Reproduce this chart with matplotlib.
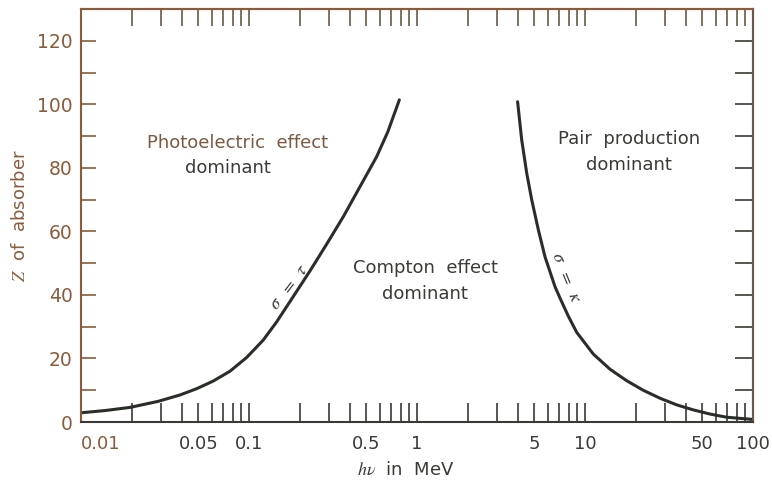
import numpy as np
import matplotlib
matplotlib.use('Agg')
import matplotlib.pyplot as plt

plt.rcParams['font.family'] = ['DejaVu Sans']
plt.rcParams['mathtext.fontset'] = 'stix'

# sigma = tau boundary (photoelectric / Compton)
photo_e = [0.01, 0.0139, 0.0196, 0.0288, 0.0388, 0.0489, 0.0613, 0.0771, 0.0968,
           0.1216, 0.146, 0.184, 0.231, 0.290, 0.364, 0.458, 0.575, 0.671, 0.785]
photo_z = [2.9, 3.6, 4.6, 6.5, 8.5, 10.5, 12.9, 16.0, 20.3,
           25.8, 31.5, 39.6, 47.6, 56.0, 64.6, 74.1, 83.5, 91.4, 101.4]

# sigma = kappa boundary (Compton / pair production)
pair_e = [3.97, 4.20, 4.50, 4.82, 5.28, 5.78, 6.63, 7.10, 7.96, 8.93, 11.2,
          14.1, 17.7, 22.2, 27.9, 35.1, 44.2, 55.5, 69.7, 100]
pair_z = [100.8, 88.8, 78.3, 69.9, 60.4, 52.0, 42.6, 39.0, 33.3, 28.2, 21.4,
          16.6, 13.0, 10.0, 7.5, 5.4, 3.8, 2.5, 1.5, 0.8]

x_labels = {0.01: '0.01', 0.05: '0.05', 0.1: '0.1', 0.5: '0.5', 1: '1',
            5: '5', 10: '10', 50: '50', 100: '100'}

brown = '#8a5c3c'
dark = '#3a3a36'
line_col = '#2a2e29'

fig = plt.figure(figsize=(7.72, 4.9), dpi=100)
ax = fig.add_axes([81 / 772, 1 - 422 / 490, (753 - 81) / 772, (422 - 9) / 490])

ax.plot(photo_e, photo_z, color=line_col, lw=2.2, solid_capstyle='round',
        solid_joinstyle='round')
ax.plot(pair_e, pair_z, color=line_col, lw=2.2, solid_capstyle='round',
        solid_joinstyle='round')

ax.set_xscale('log')
ax.set_xlim(0.01, 100)
ax.set_ylim(0, 130)

# x ticks at every 1..9 x decade
xt = []
for dec in [0.01, 0.1, 1, 10]:
    for m in range(1, 10):
        xt.append(round(dec * m, 6))
xt.append(100)
ax.set_xticks(xt)
ax.set_xticklabels([x_labels.get(v, '') for v in xt])
ax.xaxis.set_minor_locator(matplotlib.ticker.NullLocator())
ax.tick_params(axis='x', direction='in', length=14, width=1.2, color=dark,
               labelsize=13, labelcolor=dark, pad=9)
for lab in ax.get_xticklabels():
    if lab.get_text() == '0.01':
        lab.set_horizontalalignment('left')
        lab.set_color(brown)

ax.set_yticks(np.arange(0, 131, 10))
ax.set_yticklabels([str(v) if v % 20 == 0 else '' for v in range(0, 131, 10)])
ax.tick_params(axis='y', direction='in', length=11, width=1.2, color=brown,
               labelsize=13.5, labelcolor=brown, pad=6)

top = ax.secondary_xaxis('top')
top.set_xticks(xt)
top.set_xticklabels([])
top.xaxis.set_minor_locator(matplotlib.ticker.NullLocator())
top.tick_params(direction='in', length=12, width=1.2, color='#6b5a48')
top.spines['top'].set_color(brown)
top.spines['top'].set_linewidth(1.5)

right = ax.secondary_yaxis('right')
right.set_yticks(np.arange(0, 131, 10))
right.set_yticklabels([])
right.tick_params(direction='in', length=13, width=1.2, color=dark)
right.spines['right'].set_color('#6b5a48')
right.spines['right'].set_linewidth(1.5)

for s in ['left', 'top']:
    ax.spines[s].set_color(brown)
ax.spines['bottom'].set_color(dark)
ax.spines['right'].set_color('#6b5a48')
for s in ax.spines.values():
    s.set_linewidth(1.5)

ax.set_xlabel(r'$h\nu$  in  MeV', fontsize=13, color=dark)
ax.xaxis.set_label_coords(0.483, -0.095)
ax.set_ylabel(r'$Z$  of  absorber', fontsize=13, color=brown)
ax.yaxis.set_label_coords(-0.078, 0.5)

txt = dict(fontsize=13, ha='center', va='center')
ax.text(0.085, 87.8, 'Photoelectric  effect', color='#7a5a42', **txt)
ax.text(0.075, 80, 'dominant', color=dark, **txt)
ax.text(1.12, 48.5, 'Compton  effect', color=dark, **txt)
ax.text(1.12, 40.3, 'dominant', color=dark, **txt)
ax.text(18.3, 89, 'Pair  production', color=dark, **txt)
ax.text(18.3, 81, 'dominant', color=dark, **txt)
ax.text(0.172, 42.5, r'$\sigma\ \ =\ \ \tau$', color=dark, fontsize=13,
        rotation=52, ha='center', va='center')
ax.text(7.8, 45.6, r'$\sigma\ \ =\ \ \kappa$', color=dark, fontsize=13,
        rotation=-68, ha='center', va='center')

fig.savefig('out.png', dpi=100)
